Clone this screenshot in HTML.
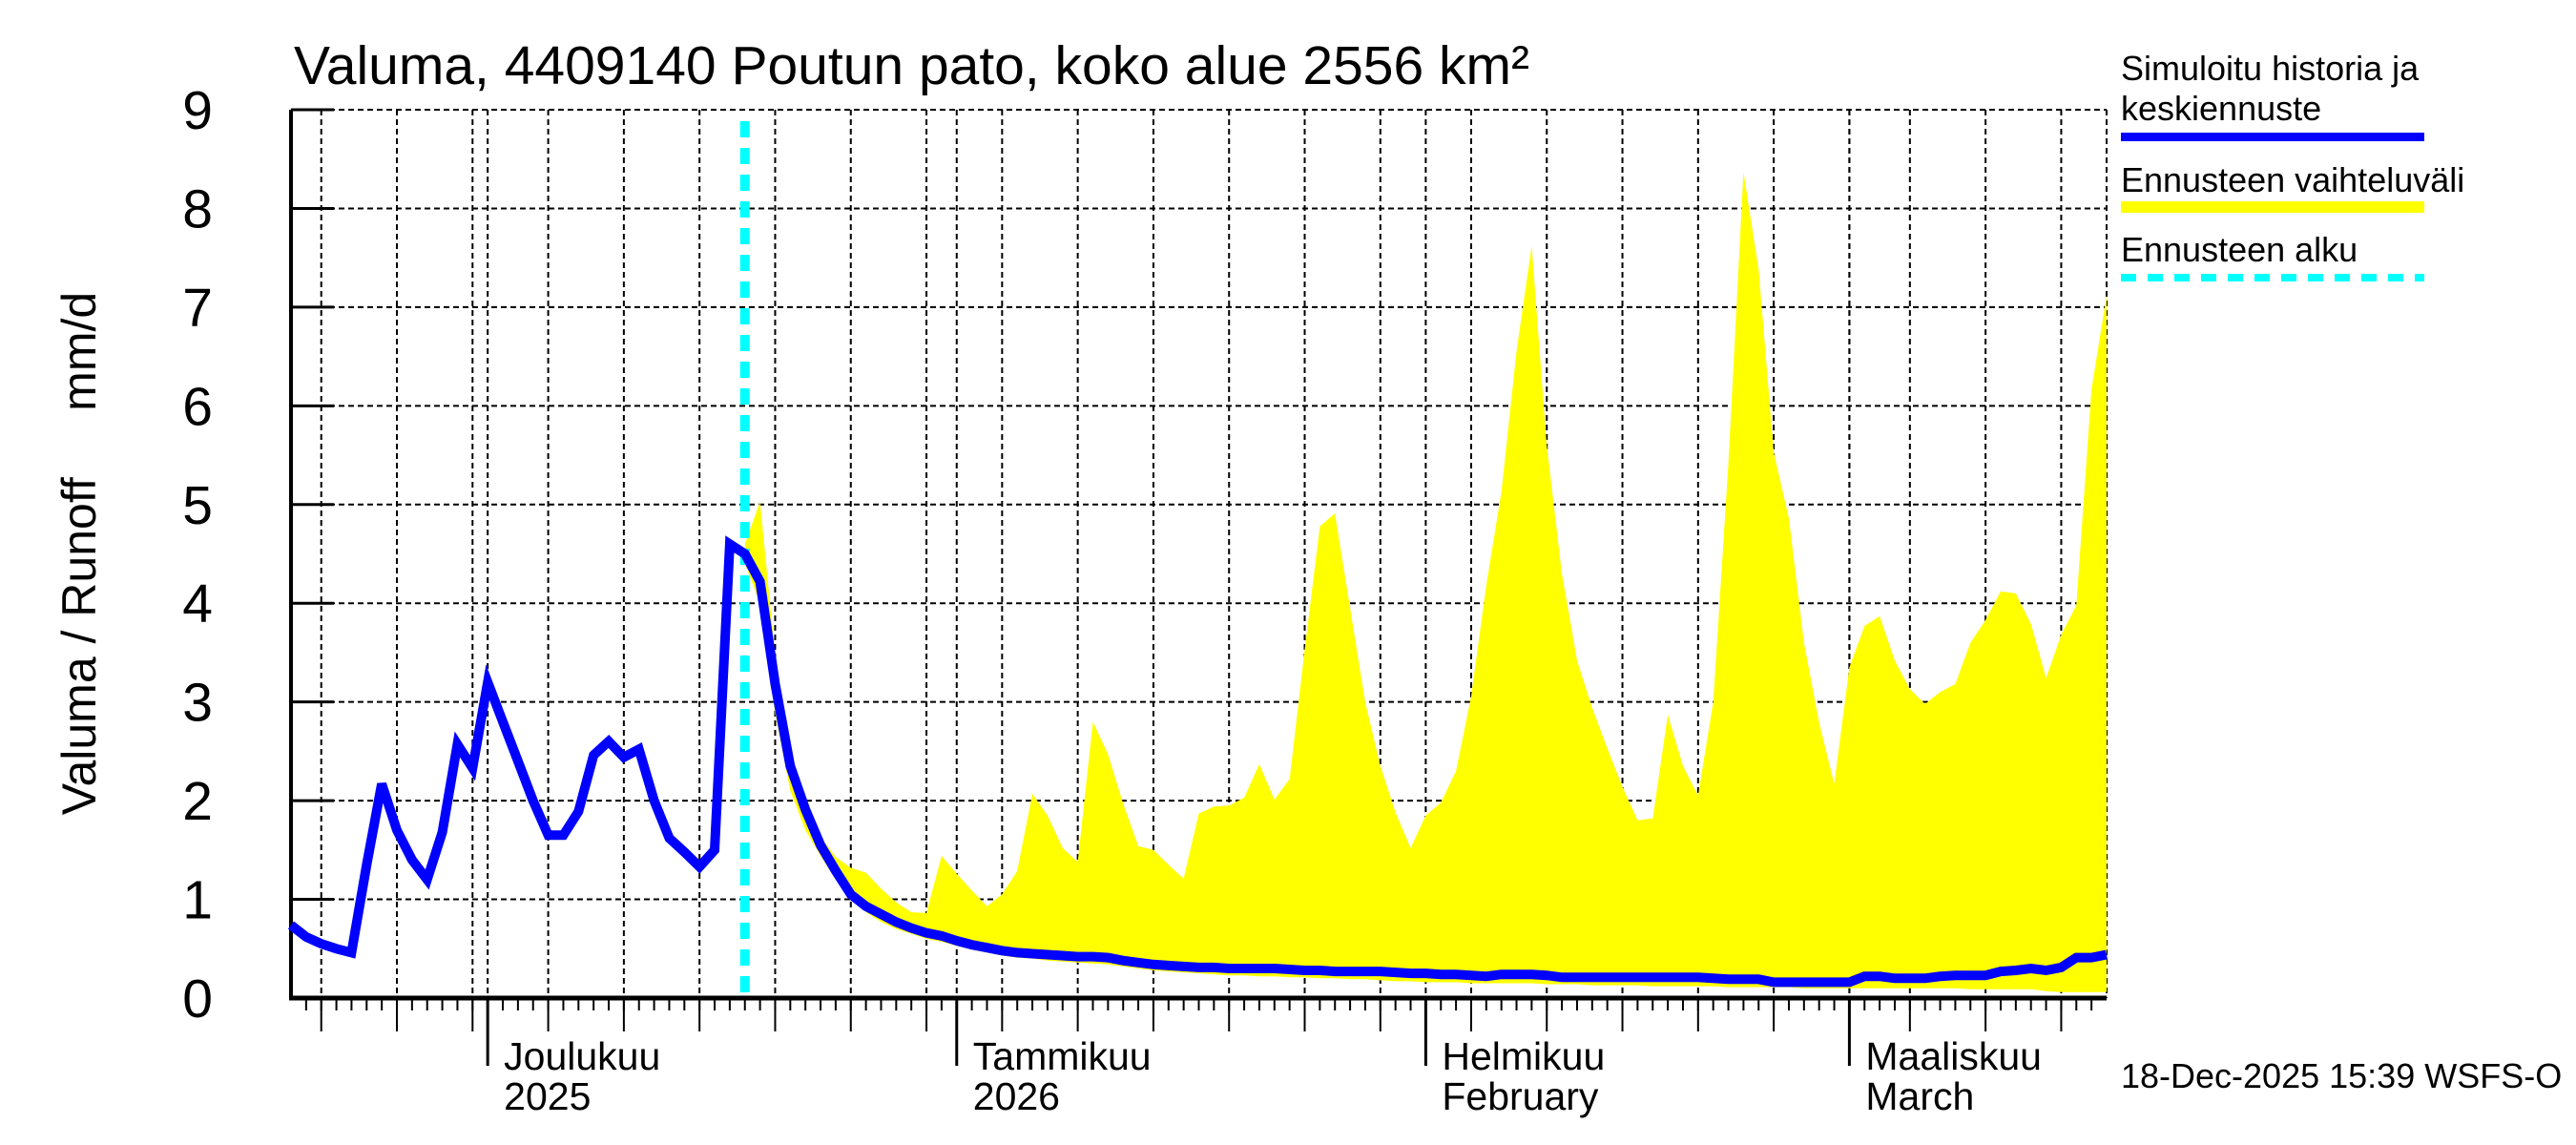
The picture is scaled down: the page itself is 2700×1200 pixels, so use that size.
<!DOCTYPE html>
<html><head><meta charset="utf-8"><style>
html,body{margin:0;padding:0;background:#fff;}
svg{display:block;font-family:"Liberation Sans",sans-serif;}
</style></head><body>
<svg id="chart" width="2700" height="1200" viewBox="0 0 2700 1200" xmlns="http://www.w3.org/2000/svg">
<rect width="2700" height="1200" fill="#fff"/>
<text x="308" y="88" font-size="57">Valuma, 4409140 Poutun pato, koko alue 2556 km²</text>
<text transform="translate(100,580) rotate(-90)" text-anchor="middle" font-size="50" xml:space="preserve">Valuma / Runoff     mm/d</text>
<g id="grid"></g>
<g id="band"></g>
<g id="axes"></g>
<g id="series"></g>
<g>
<text x="2223" y="84" font-size="36">Simuloitu historia ja</text>
<text x="2223" y="126" font-size="36">keskiennuste</text>
<rect x="2223" y="139" width="318" height="9" fill="#0000ff"/>
<text x="2223" y="201" font-size="36">Ennusteen vaihteluväli</text>
<rect x="2223" y="211" width="318" height="12" fill="#ffff00"/>
<text x="2223" y="274" font-size="36">Ennusteen alku</text>
<line x1="2223" y1="291" x2="2541" y2="291" stroke="#00ffff" stroke-width="8" stroke-dasharray="16 12"/>
</g>
<text x="2223" y="1140" font-size="36">18-Dec-2025 15:39 WSFS-O</text>
</svg>
<script>
const yTicks = [0,1,2,3,4,5,6,7,8,9];
const monthLabels = ["Joulukuu","Tammikuu","Helmikuu","Maaliskuu"];
const monthLabels2 = ["2025","2026","February","March"];
const monthDays = [13,44,75,103];
const gridDays = [2,7,12,17,22,27,32,37,42,47,52,57,62,67,72,78,83,88,93,98,103,107,112,117];
const forecastStartDay = 30;
const simulated = [0.74,0.62,0.55,0.5,0.46,1.35,2.17,1.7,1.4,1.2,1.68,2.57,2.33,3.2,2.8,2.4,2.0,1.65,1.65,1.89,2.46,2.6,2.44,2.52,2.0,1.62,1.48,1.33,1.5,4.6,4.5,4.22,3.18,2.35,1.91,1.55,1.29,1.05,0.93,0.85,0.77,0.71,0.66,0.63,0.58,0.54,0.51,0.48,0.46,0.45,0.44,0.43,0.42,0.42,0.41,0.38,0.36,0.34,0.33,0.32,0.31,0.31,0.3,0.3,0.3,0.3,0.29,0.28,0.28,0.27,0.27,0.27,0.27,0.26,0.25,0.25,0.24,0.24,0.23,0.22,0.24,0.24,0.24,0.23,0.21,0.21,0.21,0.21,0.21,0.21,0.21,0.21,0.21,0.21,0.2,0.19,0.19,0.19,0.16,0.16,0.16,0.16,0.16,0.16,0.22,0.22,0.2,0.2,0.2,0.22,0.23,0.23,0.23,0.27,0.28,0.3,0.28,0.31,0.41,0.41,0.44];
const rangeMax = [4.6,5.03,3.47,2.5,2.05,1.64,1.43,1.32,1.27,1.11,0.97,0.87,0.86,1.44,1.26,1.09,0.93,1.05,1.29,2.07,1.85,1.52,1.38,2.8,2.47,1.97,1.54,1.5,1.35,1.21,1.87,1.94,1.95,2.03,2.37,2.01,2.22,3.53,4.78,4.91,3.95,3.0,2.35,1.88,1.52,1.85,1.98,2.3,3.06,4.18,5.13,6.55,7.62,5.6,4.3,3.42,2.94,2.53,2.14,1.8,1.82,2.87,2.35,2.05,3.0,5.4,8.37,7.38,5.53,4.86,3.6,2.79,2.17,3.35,3.77,3.87,3.42,3.13,2.98,3.1,3.18,3.6,3.83,4.12,4.1,3.79,3.24,3.68,3.98,6.16,7.12];
const rangeMin = [4.4,4.0,2.88,2.1,1.7,1.44,1.2,1.02,0.87,0.77,0.7,0.65,0.6,0.57,0.53,0.49,0.46,0.43,0.41,0.4,0.38,0.37,0.36,0.35,0.34,0.32,0.3,0.28,0.27,0.26,0.25,0.24,0.23,0.23,0.22,0.22,0.21,0.21,0.2,0.2,0.19,0.19,0.18,0.17,0.17,0.16,0.16,0.16,0.15,0.15,0.15,0.15,0.15,0.14,0.14,0.14,0.13,0.13,0.13,0.13,0.12,0.12,0.12,0.12,0.12,0.11,0.11,0.11,0.11,0.11,0.1,0.1,0.1,0.1,0.1,0.1,0.1,0.1,0.1,0.1,0.1,0.09,0.09,0.09,0.09,0.09,0.07,0.06,0.06,0.06,0.06];

const NS="http://www.w3.org/2000/svg";
const L=305,R=2208,T=115,B=1046,NDAYS=120;
function xs(d){return L+(R-L)*d/NDAYS;}
function ys(v){return B-(B-T)*v/9;}
function mk(parent,tag,attrs){const e=document.createElementNS(NS,tag);for(const k in attrs)e.setAttribute(k,attrs[k]);document.getElementById(parent).appendChild(e);return e;}

yTicks.forEach(v=>{
  const g=mk('grid','line',{x1:L,x2:R,y1:ys(v),y2:ys(v),stroke:'#000','stroke-width':2,'stroke-dasharray':'6 4'});
  
  
  const t=mk('axes','line',{x1:L,x2:L+45,y1:ys(v),y2:ys(v),stroke:'#000','stroke-width':3});
  
  
  const lb=mk('axes','text',{x:223,y:ys(v)+20,'text-anchor':'end','font-size':57});
  lb.textContent=v;
  
  
});
gridDays.concat([NDAYS]).forEach(d=>{
  const g=mk('grid','line',{x1:xs(d),x2:xs(d),y1:T,y2:B,stroke:'#000','stroke-width':2,'stroke-dasharray':'6 4'});
  
  
});
gridDays.forEach(d=>{
  const t=mk('axes','line',{x1:xs(d),x2:xs(d),y1:B,y2:1081,stroke:'#000','stroke-width':2});
  
  
});
for(let d=1;d<NDAYS;d++){
  const t=mk('axes','line',{x1:xs(d),x2:xs(d),y1:B,y2:1059,stroke:'#000','stroke-width':2});
  
  
}
monthDays.forEach((d,i)=>{
  const g=mk('grid','line',{x1:xs(d),x2:xs(d),y1:T,y2:B,stroke:'#000','stroke-width':2,'stroke-dasharray':'6 4'});
  
  
  const t=mk('axes','line',{x1:xs(d),x2:xs(d),y1:B,y2:1117,stroke:'#000','stroke-width':3});
  
  
  const a=mk('axes','text',{x:xs(d)+17,y:1121,'font-size':41});
  a.textContent=monthLabels[i];
  
  
  const b=mk('axes','text',{x:xs(d)+17,y:1163,'font-size':41});
  b.textContent=monthLabels2[i];
  
  
});
// band
let pts=[];
rangeMax.forEach((v,i)=>pts.push(xs(forecastStartDay+i).toFixed(1)+','+ys(v).toFixed(1)));
for(let i=rangeMin.length-1;i>=0;i--)pts.push(xs(forecastStartDay+i).toFixed(1)+','+ys(rangeMin[i]).toFixed(1));
const band=mk('band','polygon',{points:pts.join(' '),fill:'#ffff00'});


// axes lines
const ax=mk('axes','line',{x1:L,x2:L,y1:T,y2:B+2,stroke:'#000','stroke-width':4});


const bx=mk('axes','line',{x1:L-2,x2:R,y1:B,y2:B,stroke:'#000','stroke-width':5});


// forecast start
const fs=mk('series','line',{x1:xs(forecastStartDay),x2:xs(forecastStartDay),y1:T+12,y2:B,stroke:'#00ffff','stroke-width':10,'stroke-dasharray':'17 11'});


// simulated line
const sp=simulated.map((v,i)=>xs(i).toFixed(1)+','+ys(v).toFixed(1)).join(' ');
const line=mk('series','polyline',{points:sp,fill:'none',stroke:'#0000ff','stroke-width':10,'stroke-linejoin':'miter'});


</script>
</body></html>
